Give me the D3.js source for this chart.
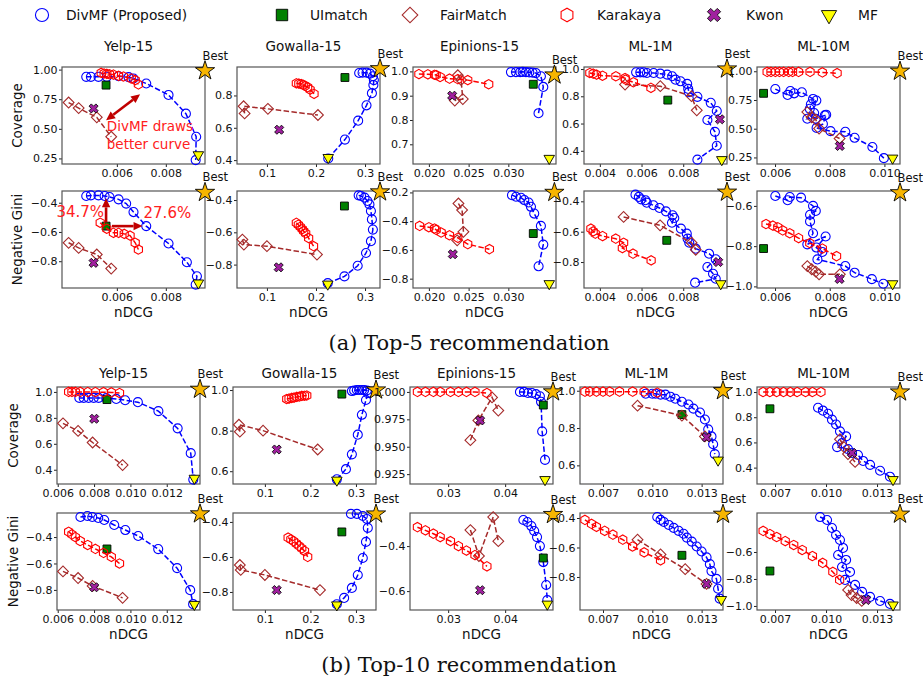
<!DOCTYPE html>
<html>
<head>
<meta charset="utf-8">
<script src="https://cdn.jsdelivr.net/npm/d3@7"></script>
<style>
body { margin: 0; background: #fff; }
svg { font-family: "DejaVu Sans", sans-serif; }
</style>
</head>
<body>
<div id="chart"></div>
<script>
var methods = ["DivMF (Proposed)", "UImatch", "FairMatch", "Karakaya", "Kwon", "MF"];
var datasets = ["Yelp-15", "Gowalla-15", "Epinions-15", "ML-1M", "ML-10M"];

// ---- axis settings: [domain, tick values, format] ----
var top5X = [
    [[0.00376, 0.0096], [0.006, 0.008], ".3f"],
    [[0.039, 0.3305], [0.1, 0.2, 0.3], ".1f"],
    [[0.018, 0.036], [0.020, 0.025, 0.030], ".3f"],
    [[0.00324, 0.0101], [0.004, 0.006, 0.008], ".3f"],
    [[0.00534, 0.01057], [0.006, 0.008, 0.010], ".3f"]
];
var top5Cov = [
    [[0.203, 1.022], [0.25, 0.5, 0.75, 1.0], ".2f"],
    [[0.376, 0.976], [0.4, 0.6, 0.8], ".1f"],
    [[0.619, 1.018], [0.7, 0.8, 0.9, 1.0], ".1f"],
    [[0.303, 1.015], [0.4, 0.6, 0.8, 1.0], ".1f"],
    [[0.193, 1.037], [0.25, 0.5, 0.75, 1.0], ".2f"]
];
var top5Gini = [
    [[-0.983, -0.32], [-0.8, -0.6, -0.4], ".1f"],
    [[-0.945, -0.344], [-0.8, -0.6, -0.4], ".1f"],
    [[-0.865, -0.19], [-0.8, -0.6, -0.4, -0.2], ".1f"],
    [[-0.971, -0.332], [-0.8, -0.6, -0.4], ".1f"],
    [[-1.008, -0.526], [-1.0, -0.8, -0.6], ".1f"]
];
var top10X = [
    [[0.00596, 0.01383], [0.006, 0.008, 0.010, 0.012], ".3f"],
    [[0.03, 0.344], [0.1, 0.2, 0.3], ".1f"],
    [[0.0233, 0.0484], [0.03, 0.04], ".2f"],
    [[0.0056, 0.0143], [0.007, 0.010, 0.013], ".3f"],
    [[0.00594, 0.01435], [0.007, 0.010, 0.013], ".3f"]
];
var top10Cov = [
    [[0.29, 1.038], [0.4, 0.6, 0.8, 1.0], ".1f"],
    [[0.537, 1.015], [0.6, 0.8, 1.0], ".1f"],
    [[0.916, 1.0045], [0.925, 0.95, 0.975, 1.0], ".3f"],
    [[0.5, 1.02], [0.6, 0.8, 1.0], ".1f"],
    [[0.27, 1.04], [0.4, 0.6, 0.8, 1.0], ".1f"]
];
var top10Gini = [
    [[-0.952, -0.218], [-0.8, -0.6, -0.4], ".1f"],
    [[-0.903, -0.349], [-0.8, -0.6, -0.4], ".1f"],
    [[-0.684, -0.253], [-0.6, -0.4], ".1f"],
    [[-1.024, -0.366], [-0.8, -0.6, -0.4], ".1f"],
    [[-1.03, -0.311], [-1.0, -0.8, -0.6], ".1f"]
];

// ---- data: [nDCG, metric] ----
// Top-5
var yelp5Cov = {
    divmf: [[0.00475,0.939],[0.00494,0.939],[0.00525,0.939],[0.00559,0.939],[0.00607,0.944],[0.00648,0.936],[0.00668,0.925],[0.0072,0.883],[0.00811,0.786],[0.00882,0.628],[0.00924,0.433],[0.00922,0.236]],
    fairmatch: [[0.00403,0.722],[0.00444,0.675],[0.00518,0.597],[0.00577,0.433]],
    karakaya: [[0.00536,0.972],[0.00548,0.967],[0.00559,0.964],[0.0057,0.961],[0.00586,0.958],[0.00607,0.947],[0.00627,0.942],[0.00659,0.925],[0.00675,0.911],[0.00688,0.875]],
    uimatch: [0.00556,0.869], kwon: [0.00505,0.672], mf: [0.00933,0.281], best: [0.0096,0.99]
};
var yelp5Gini = {
    divmf: [[0.00475,-0.354],[0.00494,-0.35],[0.00525,-0.35],[0.0055,-0.354],[0.0057,-0.361],[0.00607,-0.377],[0.00638,-0.406],[0.00668,-0.464],[0.0072,-0.56],[0.00811,-0.679],[0.00886,-0.807],[0.00927,-0.903],[0.00922,-0.96]],
    fairmatch: [[0.00403,-0.674],[0.00444,-0.709],[0.00518,-0.754],[0.00577,-0.85]],
    karakaya: [[0.00532,-0.537],[0.00559,-0.578],[0.00586,-0.606],[0.00607,-0.606],[0.0063,-0.613],[0.00654,-0.625],[0.00675,-0.674],[0.00688,-0.72]],
    uimatch: [0.00556,-0.56], kwon: [0.00505,-0.811], mf: [0.00933,-0.949], best: [0.0096,-0.33]
};
var gowalla5Cov = {
    divmf: [[0.225,0.41],[0.259,0.527],[0.286,0.644],[0.303,0.739],[0.314,0.814],[0.317,0.865],[0.318,0.895],[0.316,0.919],[0.31,0.935],[0.303,0.941],[0.295,0.941],[0.288,0.939]],
    fairmatch: [[0.0545,0.689],[0.0525,0.733],[0.102,0.717],[0.204,0.679]],
    karakaya: [[0.16,0.875],[0.165,0.873],[0.17,0.871],[0.174,0.865],[0.178,0.859],[0.183,0.851],[0.188,0.836],[0.196,0.81]],
    uimatch: [0.259,0.911], kwon: [0.125,0.588], mf: [0.225,0.416], best: [0.3305,0.965]
};
var gowalla5Gini = {
    divmf: [[0.224,-0.915],[0.258,-0.873],[0.285,-0.807],[0.302,-0.728],[0.312,-0.655],[0.316,-0.583],[0.314,-0.52],[0.312,-0.468],[0.309,-0.427],[0.305,-0.406],[0.299,-0.385],[0.292,-0.375],[0.287,-0.371]],
    fairmatch: [[0.05,-0.645],[0.053,-0.676],[0.1,-0.686],[0.202,-0.738]],
    karakaya: [[0.16,-0.541],[0.164,-0.553],[0.168,-0.566],[0.172,-0.58],[0.175,-0.593],[0.179,-0.607],[0.185,-0.636],[0.195,-0.686]],
    uimatch: [0.258,-0.437], kwon: [0.124,-0.817], mf: [0.224,-0.921], best: [0.3305,-0.35]
};
var epinions5Cov = {
    divmf: [[0.03033,0.997],[0.03096,0.997],[0.0315,0.997],[0.0318,0.998],[0.03222,0.997],[0.03264,0.996],[0.03305,0.995],[0.03347,0.993],[0.0341,0.98],[0.0344,0.936],[0.0338,0.828]],
    fairmatch: [[0.02364,0.984],[0.02405,0.965],[0.02427,0.886],[0.02326,0.88]],
    karakaya: [[0.01874,0.989],[0.01987,0.988],[0.02071,0.986],[0.02092,0.985],[0.02142,0.977],[0.02259,0.97],[0.02364,0.968],[0.02489,0.964],[0.02753,0.947]],
    uimatch: [0.03314,0.947], kwon: [0.02293,0.9], mf: [0.03515,0.642], best: [0.0358,0.985]
};
var epinions5Gini = {
    divmf: [[0.03046,-0.219],[0.03096,-0.23],[0.03159,-0.237],[0.03201,-0.253],[0.03255,-0.27],[0.03285,-0.3],[0.03326,-0.347],[0.0341,-0.433],[0.0344,-0.563],[0.03381,-0.714]],
    fairmatch: [[0.02372,-0.277],[0.02418,-0.323],[0.02435,-0.474],[0.02356,-0.533]],
    karakaya: [[0.01883,-0.433],[0.02,-0.442],[0.02071,-0.451],[0.02092,-0.461],[0.02155,-0.479],[0.02259,-0.498],[0.02364,-0.516],[0.02489,-0.56],[0.02762,-0.595]],
    uimatch: [0.03314,-0.486], kwon: [0.02301,-0.63], mf: [0.03515,-0.835], best: [0.0358,-0.2]
};
var ml1m5Cov = {
    divmf: [[0.00574,0.976],[0.00594,0.976],[0.0061,0.976],[0.00626,0.971],[0.00658,0.971],[0.0069,0.966],[0.00723,0.959],[0.00747,0.947],[0.00763,0.922],[0.00787,0.91],[0.00819,0.891],[0.00824,0.854],[0.00827,0.83],[0.00868,0.796],[0.00932,0.752],[0.00961,0.692],[0.00916,0.626],[0.00952,0.539],[0.00961,0.437],[0.00868,0.335]],
    fairmatch: [[0.00521,0.886],[0.0069,0.874],[0.0084,0.801],[0.00865,0.697]],
    karakaya: [[0.00352,0.971],[0.00368,0.966],[0.00384,0.959],[0.00413,0.951],[0.00477,0.947],[0.00521,0.934],[0.00523,0.922],[0.00561,0.903],[0.00645,0.862]],
    uimatch: [0.00726,0.772], kwon: [0.00976,0.631], mf: [0.00985,0.335], best: [0.0101,1.0]
};
var ml1m5Gini = {
    divmf: [[0.00571,-0.356],[0.00587,-0.371],[0.00598,-0.387],[0.00619,-0.393],[0.00625,-0.409],[0.00657,-0.426],[0.00686,-0.444],[0.00717,-0.466],[0.00749,-0.492],[0.00757,-0.51],[0.00746,-0.541],[0.00789,-0.58],[0.00817,-0.613],[0.00821,-0.646],[0.00829,-0.673],[0.0086,-0.712],[0.00924,-0.745],[0.00956,-0.782],[0.00916,-0.833],[0.00943,-0.877],[0.00956,-0.91],[0.00857,-0.936]],
    fairmatch: [[0.00514,-0.503],[0.00689,-0.558],[0.0084,-0.673],[0.0086,-0.719]],
    karakaya: [[0.00357,-0.58],[0.00368,-0.598],[0.00378,-0.613],[0.00413,-0.629],[0.00476,-0.646],[0.00514,-0.673],[0.00508,-0.708],[0.00559,-0.745],[0.00646,-0.789]],
    uimatch: [0.00721,-0.657], kwon: [0.00968,-0.8], mf: [0.0098,-0.943], best: [0.0101,-0.34]
};
var ml10m5Cov = {
    divmf: [[0.00601,0.845],[0.00646,0.794],[0.00656,0.828],[0.0067,0.808],[0.00698,0.817],[0.00739,0.759],[0.00751,0.745],[0.00731,0.713],[0.00727,0.673],[0.00743,0.636],[0.00718,0.587],[0.00749,0.587],[0.00782,0.616],[0.00787,0.622],[0.00775,0.542],[0.00752,0.507],[0.00803,0.479],[0.00857,0.473],[0.00891,0.421],[0.00956,0.341],[0.00998,0.244]],
    fairmatch: [[0.00718,0.645],[0.00734,0.599],[0.00749,0.579],[0.00761,0.501],[0.00836,0.415]],
    karakaya: [[0.00571,0.994],[0.00585,0.994],[0.00601,0.994],[0.00616,0.994],[0.00631,0.994],[0.0065,0.994],[0.00664,0.994],[0.00686,0.994],[0.00728,0.994],[0.00773,0.99],[0.00827,0.983]],
    uimatch: [0.00558,0.808], kwon: [0.00837,0.35], mf: [0.0103,0.244], best: [0.01057,1.0]
};
var ml10m5Gini = {
    divmf: [[0.00601,-0.551],[0.00646,-0.572],[0.00654,-0.556],[0.00695,-0.559],[0.00739,-0.6],[0.00749,-0.625],[0.00728,-0.644],[0.00728,-0.677],[0.00739,-0.736],[0.00718,-0.791],[0.00785,-0.752],[0.00751,-0.807],[0.00773,-0.829],[0.00755,-0.866],[0.00857,-0.899],[0.00891,-0.932],[0.00954,-0.964],[0.00996,-0.987]],
    fairmatch: [[0.00718,-0.899],[0.00734,-0.915],[0.00749,-0.927],[0.00761,-0.94],[0.00837,-0.94]],
    karakaya: [[0.00567,-0.69],[0.00592,-0.698],[0.0061,-0.706],[0.00628,-0.722],[0.00654,-0.736],[0.00686,-0.76],[0.00727,-0.785],[0.00773,-0.812],[0.00825,-0.85]],
    uimatch: [0.00558,-0.812], kwon: [0.00836,-0.963], mf: [0.0103,-0.987], best: [0.01057,-0.535]
};
// Top-10
var yelp10Cov = {
    divmf: [[0.00719,0.954],[0.00743,0.954],[0.0077,0.954],[0.00798,0.954],[0.00825,0.954],[0.00867,0.952],[0.00922,0.946],[0.00971,0.936],[0.01041,0.921],[0.01154,0.852],[0.0126,0.719],[0.01332,0.528],[0.01346,0.324]],
    fairmatch: [[0.00629,0.758],[0.00712,0.699],[0.00792,0.61],[0.00957,0.436]],
    karakaya: [[0.0066,1.0],[0.00678,1.0],[0.00697,1.0],[0.00724,1.0],[0.00765,0.999],[0.00807,0.999],[0.00852,0.998],[0.00895,0.996],[0.0094,0.992]],
    uimatch: [0.00871,0.941], kwon: [0.00801,0.793], mf: [0.01352,0.334], best: [0.01383,1.02]
};
var yelp10Gini = {
    divmf: [[0.00725,-0.248],[0.00763,-0.241],[0.0079,-0.248],[0.00823,-0.256],[0.00856,-0.271],[0.00911,-0.309],[0.00972,-0.347],[0.01043,-0.392],[0.01153,-0.491],[0.01257,-0.635],[0.01329,-0.802],[0.01345,-0.908]],
    fairmatch: [[0.00629,-0.66],[0.00712,-0.71],[0.00792,-0.77],[0.00957,-0.86]],
    karakaya: [[0.0066,-0.36],[0.00678,-0.38],[0.00697,-0.4],[0.00724,-0.43],[0.00765,-0.46],[0.00807,-0.49],[0.00852,-0.52],[0.00895,-0.55],[0.0094,-0.6]],
    uimatch: [0.00871,-0.49], kwon: [0.00801,-0.78], mf: [0.01352,-0.91], best: [0.01383,-0.225]
};
var gowalla10Cov = {
    divmf: [[0.258,0.56],[0.278,0.61],[0.291,0.683],[0.304,0.78],[0.313,0.878],[0.322,0.951],[0.326,0.985],[0.324,0.998],[0.318,1.0],[0.313,1.0],[0.307,1.0],[0.302,1.0],[0.296,0.998],[0.291,0.995]],
    fairmatch: [[0.045,0.795],[0.043,0.829],[0.096,0.8],[0.216,0.707]],
    karakaya: [[0.148,0.956],[0.153,0.958],[0.159,0.961],[0.164,0.963],[0.17,0.966],[0.176,0.968],[0.181,0.971],[0.187,0.972],[0.192,0.973]],
    uimatch: [0.269,0.98], kwon: [0.126,0.707], mf: [0.258,0.556], best: [0.344,1.0]
};
var gowalla10Gini = {
    divmf: [[0.258,-0.87],[0.274,-0.834],[0.291,-0.777],[0.304,-0.703],[0.315,-0.606],[0.322,-0.514],[0.326,-0.434],[0.324,-0.383],[0.315,-0.366],[0.302,-0.354],[0.289,-0.354]],
    fairmatch: [[0.045,-0.646],[0.047,-0.674],[0.1,-0.703],[0.221,-0.789]],
    karakaya: [[0.151,-0.49],[0.157,-0.5],[0.163,-0.51],[0.169,-0.523],[0.175,-0.537],[0.181,-0.551],[0.187,-0.566],[0.194,-0.6]],
    uimatch: [0.269,-0.457], kwon: [0.126,-0.789], mf: [0.258,-0.874], best: [0.344,-0.355]
};
var epinions10Cov = {
    divmf: [[0.0426,1.0],[0.0433,1.0],[0.044,0.999],[0.0447,0.999],[0.0454,0.998],[0.0461,0.996],[0.0463,0.991],[0.0465,0.964],[0.047,0.938]],
    fairmatch: [[0.0339,0.956],[0.0353,0.974],[0.0377,0.995],[0.0388,0.983]],
    karakaya: [[0.0246,1.0],[0.026,1.0],[0.0274,1.0],[0.0286,1.0],[0.0304,1.0],[0.0318,1.0],[0.0332,1.0],[0.0347,1.0],[0.0368,0.999]],
    uimatch: [0.0467,0.988], kwon: [0.0356,0.974], mf: [0.047,0.92], best: [0.0484,1.0]
};
var epinions10Gini = {
    divmf: [[0.0432,-0.284],[0.0439,-0.293],[0.0446,-0.311],[0.0451,-0.333],[0.0456,-0.36],[0.0461,-0.4],[0.0467,-0.471],[0.0472,-0.573],[0.0474,-0.64]],
    fairmatch: [[0.0339,-0.329],[0.0354,-0.444],[0.0379,-0.271],[0.0388,-0.378]],
    karakaya: [[0.0246,-0.316],[0.026,-0.33],[0.0274,-0.345],[0.0286,-0.36],[0.0304,-0.378],[0.0318,-0.4],[0.0332,-0.42],[0.0347,-0.44],[0.0368,-0.49]],
    uimatch: [0.0467,-0.453], kwon: [0.0356,-0.596], mf: [0.0474,-0.658], best: [0.0484,-0.26]
};
var ml1m10Cov = {
    divmf: [[0.0096,0.984],[0.01,0.984],[0.0102,0.984],[0.0105,0.979],[0.0108,0.979],[0.0111,0.968],[0.0114,0.957],[0.0118,0.941],[0.0122,0.926],[0.0125,0.904],[0.0129,0.883],[0.0132,0.846],[0.0134,0.793],[0.0136,0.755],[0.0137,0.713],[0.0138,0.66]],
    fairmatch: [[0.0091,0.92],[0.0118,0.867],[0.0132,0.755]],
    karakaya: [[0.0059,0.995],[0.0062,0.995],[0.0066,0.995],[0.007,0.995],[0.0074,0.995],[0.008,0.995],[0.0088,0.995],[0.0095,0.995],[0.0103,0.99]],
    uimatch: [0.0118,0.872], kwon: [0.0133,0.75], mf: [0.014,0.628], best: [0.0143,1.0]
};
var ml1m10Gini = {
    divmf: [[0.0103,-0.393],[0.0105,-0.413],[0.0107,-0.427],[0.011,-0.447],[0.0113,-0.467],[0.0116,-0.487],[0.0119,-0.507],[0.0121,-0.533],[0.0124,-0.56],[0.0127,-0.593],[0.013,-0.627],[0.0133,-0.667],[0.0135,-0.713],[0.0136,-0.76],[0.0139,-0.813],[0.014,-0.88],[0.0141,-0.947]],
    fairmatch: [[0.0091,-0.547],[0.0105,-0.647],[0.012,-0.747],[0.0133,-0.847]],
    karakaya: [[0.0059,-0.413],[0.0063,-0.44],[0.0066,-0.46],[0.0071,-0.487],[0.0076,-0.513],[0.0082,-0.547],[0.0088,-0.593],[0.0095,-0.633],[0.0105,-0.687]],
    uimatch: [0.0118,-0.653], kwon: [0.0133,-0.847], mf: [0.0142,-0.953], best: [0.0143,-0.375]
};
var ml10m10Cov = {
    divmf: [[0.00953,0.875],[0.00982,0.852],[0.01012,0.828],[0.01035,0.781],[0.01059,0.742],[0.01082,0.688],[0.01118,0.648],[0.01094,0.594],[0.01065,0.563],[0.01129,0.547],[0.01153,0.516],[0.01188,0.5],[0.01218,0.453],[0.01259,0.422],[0.01318,0.375],[0.01376,0.328]],
    fairmatch: [[0.01082,0.625],[0.01106,0.563],[0.01129,0.508],[0.01171,0.445]],
    karakaya: [[0.0063,1.0],[0.0067,1.0],[0.0071,1.0],[0.0075,1.0],[0.0079,1.0],[0.0083,1.0],[0.0088,1.0],[0.0092,1.0],[0.0097,1.0]],
    uimatch: [0.0067,0.867], kwon: [0.01153,0.516], mf: [0.01394,0.305], best: [0.01435,1.0]
};
var ml10m10Gini = {
    divmf: [[0.00965,-0.341],[0.01006,-0.363],[0.01035,-0.422],[0.01059,-0.474],[0.01082,-0.511],[0.011,-0.57],[0.01071,-0.622],[0.01118,-0.659],[0.01094,-0.711],[0.01141,-0.748],[0.01112,-0.807],[0.01171,-0.844],[0.01212,-0.896],[0.01259,-0.933],[0.01318,-0.963],[0.01376,-0.985]],
    fairmatch: [[0.0113,-0.881],[0.0115,-0.919],[0.0118,-0.941],[0.0121,-0.963]],
    karakaya: [[0.0063,-0.444],[0.0067,-0.467],[0.0071,-0.489],[0.0076,-0.519],[0.0081,-0.548],[0.0086,-0.585],[0.0092,-0.63],[0.0098,-0.681],[0.0104,-0.748],[0.0108,-0.807]],
    uimatch: [0.0067,-0.741], kwon: [0.01235,-0.956], mf: [0.01394,-0.993], best: [0.01435,-0.32]
};

var top5Data = [[yelp5Cov, gowalla5Cov, epinions5Cov, ml1m5Cov, ml10m5Cov],
                [yelp5Gini, gowalla5Gini, epinions5Gini, ml1m5Gini, ml10m5Gini]];
var top10Data = [[yelp10Cov, gowalla10Cov, epinions10Cov, ml1m10Cov, ml10m10Cov],
                 [yelp10Gini, gowalla10Gini, epinions10Gini, ml1m10Gini, ml10m10Gini]];

var W = 923, H = 681, PW = 143, PH = 97;
var BLUE = "#0000ff", RED = "#ff0000", BROWN = "#a52a2a", ARROW = "#c00000";

var svg = d3.select("#chart").append("svg")
    .attr("width", W).attr("height", H);

// marker shapes
function hexPath(r) {
    var pts = d3.range(6).map(function (i) {
        var a = Math.PI / 2 + i * Math.PI / 3;
        return [r * Math.cos(a), r * Math.sin(a)];
    });
    return "M" + pts.join("L") + "Z";
}
var shapes = {
    divmf: { d: d3.symbol().type(d3.symbolCircle).size(64)(), rot: 0, fill: "none", stroke: BLUE, sw: 1.1 },
    uimatch: { d: d3.symbol().type(d3.symbolSquare).size(62)(), rot: 0, fill: "#008000", stroke: "#000", sw: 0.9 },
    fairmatch: { d: d3.symbol().type(d3.symbolSquare).size(58)(), rot: 45, fill: "none", stroke: BROWN, sw: 1.1 },
    karakaya: { d: hexPath(4.7), rot: 0, fill: "none", stroke: RED, sw: 1.1 },
    kwon: { d: d3.symbol().type(d3.symbolCross).size(52)(), rot: 45, fill: "#a0209f", stroke: "#000", sw: 0.8 },
    mf: { d: d3.symbol().type(d3.symbolTriangle).size(48)(), rot: 180, fill: "#ffff00", stroke: "#000", sw: 0.9 },
    best: { d: d3.symbol().type(d3.symbolStar).size(115)(), rot: 0, fill: "#f7b500", stroke: "#000", sw: 0.9 }
};
function marker(g, key, px, py, scale) {
    var s = shapes[key];
    g.append("path")
        .attr("d", s.d)
        .attr("transform", "translate(" + px + "," + py + ") rotate(" + s.rot + ") scale(" + (scale || 1) + ")")
        .attr("fill", s.fill)
        .attr("stroke", s.stroke)
        .attr("stroke-width", s.sw / (scale || 1));
}

function drawPanel(left, top, xs, ys, d) {
    var x = d3.scaleLinear().domain(xs[0]).range([left, left + PW]);
    var y = d3.scaleLinear().domain(ys[0]).range([top + PH, top]);
    var g = svg.append("g");

    var ax = g.append("g")
        .attr("transform", "translate(0," + (top + PH) + ")")
        .call(d3.axisBottom(x).tickValues(xs[1]).tickFormat(d3.format(xs[2])).tickSize(3).tickPadding(2.5));
    var ay = g.append("g")
        .attr("transform", "translate(" + left + ",0)")
        .call(d3.axisLeft(y).tickValues(ys[1]).tickFormat(d3.format(ys[2])).tickSize(3).tickPadding(1.5));
    [ax, ay].forEach(function (a) {
        a.select(".domain").remove();
        a.selectAll("text").attr("font-size", 11).attr("fill", "#111").attr("font-family", "DejaVu Sans");
        a.selectAll("line").attr("stroke", "#222");
    });

    g.append("rect")
        .attr("x", left).attr("y", top).attr("width", PW).attr("height", PH)
        .attr("fill", "none").attr("stroke", "#555").attr("stroke-width", 1.2);

    var line = d3.line().x(function (p) { return x(p[0]); }).y(function (p) { return y(p[1]); });

    function series(key, color) {
        g.append("path").datum(d[key])
            .attr("d", line).attr("fill", "none")
            .attr("stroke", color).attr("stroke-width", 1.5)
            .attr("stroke-dasharray", "5.5,2.4");
        d[key].forEach(function (p) { marker(g, key, x(p[0]), y(p[1])); });
    }
    series("divmf", BLUE);
    marker(g, "uimatch", x(d.uimatch[0]), y(d.uimatch[1]));
    series("fairmatch", BROWN);
    series("karakaya", RED);
    marker(g, "kwon", x(d.kwon[0]), y(d.kwon[1]));
    marker(g, "mf", x(d.mf[0]), y(d.mf[1]));
    marker(g, "best", x(d.best[0]), y(d.best[1]));
    g.append("text")
        .attr("x", x(d.best[0]) - 2.5).attr("y", y(d.best[1]) - 11)
        .attr("font-size", 11.5).attr("fill", "#111").text("Best");
    return { x: x, y: y, g: g };
}

function arrowHead(g, x1, y1, x2, y2) {
    var a = Math.atan2(y2 - y1, x2 - x1), L = 9, Wd = 4.2;
    var bx = x2 - L * Math.cos(a), by = y2 - L * Math.sin(a);
    var pts = [[x2, y2],
        [bx + Wd * Math.sin(a), by - Wd * Math.cos(a)],
        [bx - Wd * Math.sin(a), by + Wd * Math.cos(a)]];
    g.append("path").attr("d", "M" + pts.join("L") + "Z").attr("fill", ARROW);
    return [bx, by];
}
function arrow(g, x1, y1, x2, y2, both) {
    var e = arrowHead(g, x1, y1, x2, y2);
    var s = both ? arrowHead(g, x2, y2, x1, y1) : [x1, y1];
    g.append("line").attr("x1", s[0]).attr("y1", s[1]).attr("x2", e[0]).attr("y2", e[1])
        .attr("stroke", ARROW).attr("stroke-width", 2.6);
}

var groups = [
    { xs: top5X, ys: [top5Cov, top5Gini], data: top5Data, lefts: [62, 237, 413, 584, 757], tops: [67, 191],
      titleY: 50.5, labelX: 22, xlabelY: 317, caption: "(a) Top-5 recommendation", capY: 350 },
    { xs: top10X, ys: [top10Cov, top10Gini], data: top10Data, lefts: [57, 233, 410, 580, 757], tops: [387, 513],
      titleY: 377.5, labelX: 18, xlabelY: 639, caption: "(b) Top-10 recommendation", capY: 672 }
];
var rowLabels = ["Coverage", "Negative Gini"];
var panels = [];

groups.forEach(function (gr, gi) {
    panels.push([]);
    datasets.forEach(function (name, i) {
        svg.append("text")
            .attr("x", gr.lefts[i] + PW / 2 - 5).attr("y", gr.titleY)
            .attr("text-anchor", "middle").attr("font-size", 13.5).attr("fill", "#111")
            .text(name);
        [0, 1].forEach(function (r) {
            var p = drawPanel(gr.lefts[i], gr.tops[r], gr.xs[i], gr.ys[r][i], gr.data[r][i]);
            panels[gi].push(p);
        });
        svg.append("text")
            .attr("x", gr.lefts[i] + PW / 2).attr("y", gr.xlabelY)
            .attr("text-anchor", "middle").attr("font-size", 13.5).attr("fill", "#111")
            .text("nDCG");
    });
    rowLabels.forEach(function (lab, r) {
        svg.append("text")
            .attr("transform", "translate(" + gr.labelX + "," + (gr.tops[r] + PH / 2) + ") rotate(-90)")
            .attr("text-anchor", "middle").attr("font-size", 13.5).attr("fill", "#111")
            .text(lab);
    });
    svg.append("text")
        .attr("x", 469).attr("y", gr.capY)
        .attr("text-anchor", "middle").attr("font-size", 21)
        .attr("font-family", "DejaVu Serif").attr("fill", "#111")
        .text(gr.caption);
});

// annotations on Yelp-15, Top-5
var pc = panels[0][0], pg = panels[0][1];
arrow(pc.g, pc.x(0.00556), pc.y(0.572), pc.x(0.00695), pc.y(0.792), true);
pc.g.append("text").attr("x", pc.x(0.00559)).attr("y", pc.y(0.48))
    .attr("font-size", 13.5).attr("fill", "#ff2020").text("DivMF draws");
pc.g.append("text").attr("x", pc.x(0.00559)).attr("y", pc.y(0.328))
    .attr("font-size", 13.5).attr("fill", "#ff2020").text("better curve");
arrow(pg.g, pg.x(0.00556), pg.y(-0.535), pg.x(0.00556), pg.y(-0.37), false);
arrow(pg.g, pg.x(0.0058), pg.y(-0.56), pg.x(0.00705), pg.y(-0.56), false);
pg.g.append("text").attr("x", pg.x(0.00548)).attr("y", pg.y(-0.5))
    .attr("text-anchor", "end").attr("font-size", 15).attr("fill", "#ff2020").text("34.7%");
pg.g.append("text").attr("x", pg.x(0.00709)).attr("y", pg.y(-0.503))
    .attr("font-size", 15).attr("fill", "#ff2020").text("27.6%");

// legend
var legendKeys = ["divmf", "uimatch", "fairmatch", "karakaya", "kwon", "mf"];
var legendMarkX = [42, 282, 410, 567, 714, 829];
var legendTextX = [66, 310, 440, 597, 746, 858];
var lg = svg.append("g");
legendKeys.forEach(function (k, i) {
    marker(lg, k, legendMarkX[i], 15, 1.45);
    lg.append("text").attr("x", legendTextX[i]).attr("y", 20)
        .attr("font-size", 13.8).attr("fill", "#111").text(methods[i]);
});
</script>
</body>
</html>
